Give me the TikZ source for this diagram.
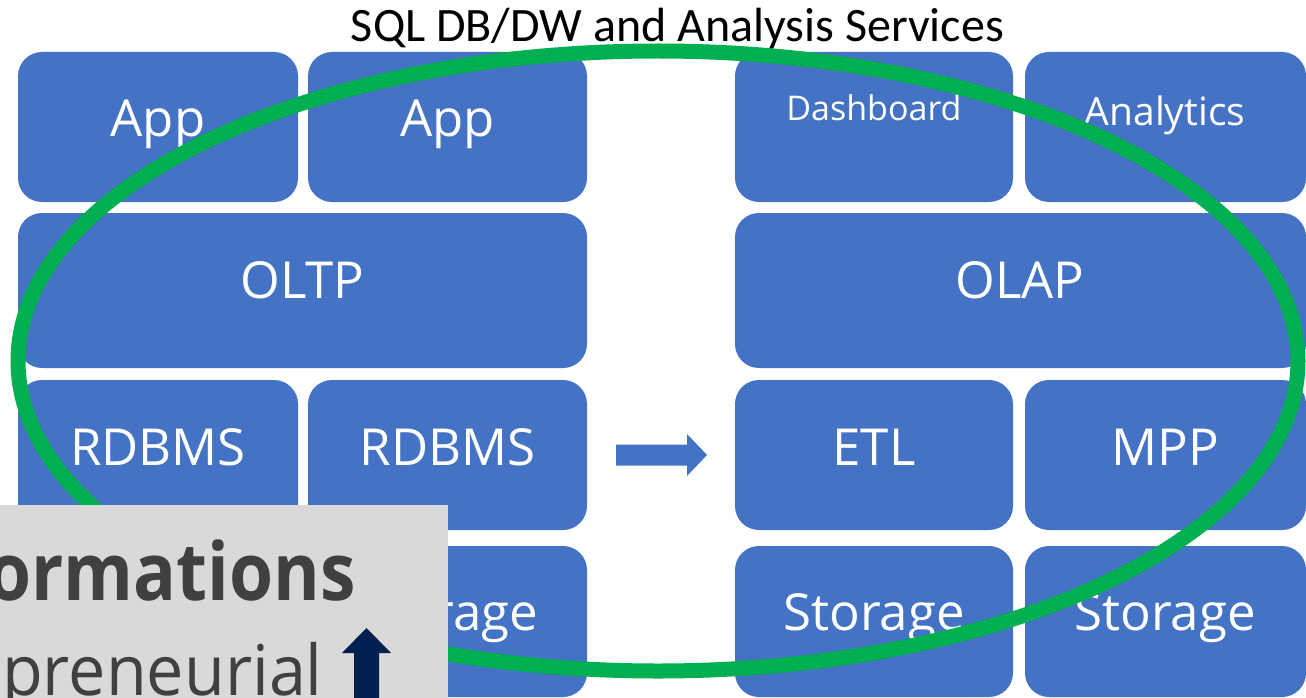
\documentclass[tikz,border=0pt]{standalone}
\usepackage{fontspec}
\setmainfont{Open Sans}
\newfontfamily\titlefont{Carlito}
\definecolor{tileblue}{HTML}{4472C4}
\definecolor{ringgreen}{HTML}{00B050}
\definecolor{panelgray}{HTML}{D9D9D9}
\definecolor{paneltext}{HTML}{404040}
\definecolor{navy}{HTML}{002050}

% \tile{name}{x1}{y1}{x2}{y2}
\newcommand{\tile}[5]{%
  \node[tile, anchor=north west, minimum width=#4pt-#2pt, minimum height=#5pt-#3pt] (#1) at (#2,#3) {};}

\begin{document}
\begin{tikzpicture}[x=1pt, y=-1pt,
  tile/.style={fill=tileblue, draw=none, rounded corners=24pt, inner sep=0pt, outer sep=0pt},
  lbl/.style={text=white, anchor=base, inner sep=0pt, font=\fontsize{51}{60}\selectfont},
  smalllbl/.style={lbl, font=\fontsize{34}{40}\selectfont},
  ring/.style={draw=ringgreen, line width=15pt},
  panel/.style={fill=panelgray, draw=none, anchor=north west, inner sep=0pt, outer sep=0pt}]
\useasboundingbox (0,0) rectangle (1306,698);
\clip (0,0) rectangle (1306,698);

% title
\node[anchor=base, inner sep=0pt, font=\titlefont\fontsize{48}{54}\selectfont] (title) at (677.5,42) {SQL DB/DW and Analysis Services};

% left stack: transactional side
\tile{app1}{18}{52}{298}{202}
\tile{app2}{308}{52}{587}{202}
\tile{oltp}{18}{213}{587}{368}
\tile{rdb1}{18}{380}{298}{530}
\tile{rdb2}{308}{380}{587}{530}
\tile{sto1}{18}{546}{298}{697}
\tile{sto2}{308}{546}{587}{697}

% right stack: analytical side
\tile{dash}{735}{52}{1013}{202}
\tile{anal}{1025}{52}{1306}{202}
\tile{olap}{735}{213}{1306}{368}
\tile{etl}{735}{380}{1013}{530}
\tile{mpp}{1025}{380}{1306}{530}
\tile{sto3}{735}{546}{1013}{697}
\tile{sto4}{1025}{546}{1306}{697}

% labels
\node[lbl] (app1t) at (158,136) {App};
\node[lbl] (app2t) at (447.5,136) {App};
\node[lbl] (oltpt) at (302.5,298) {OLTP};
\node[lbl] (rdb1t) at (158,465) {RDBMS};
\node[lbl] (rdb2t) at (447.5,465) {RDBMS};
\node[lbl] (sto1t) at (158,630) {Storage};
\node[lbl] (sto2t) at (447.5,630) {Storage};
\node[smalllbl] (dasht) at (874,121) {Dashboard};
\node[lbl, font=\fontsize{39}{46}\selectfont] (analt) at (1165,126) {Analytics};
\node[lbl] (olapt) at (1020,298) {OLAP};
\node[lbl] (etlt) at (874,465) {ETL};
\node[lbl] (mppt) at (1165,465) {MPP};
\node[lbl] (sto3t) at (874,630) {Storage};
\node[lbl] (sto4t) at (1165,630) {Storage};

% block arrow between the stacks
\fill[tileblue] (616,444.5) -- (687,444.5) -- (687,434) -- (707,455) -- (687,476)
  -- (687,465.5) -- (616,465.5) -- cycle;

% green ring
\draw[ring] (658,361) ellipse [x radius=640, y radius=310];

% grey panel in the lower left corner
\node[panel, minimum width=448pt, minimum height=193pt] (panel) at (0,505) {};
\node[anchor=base east, inner sep=0pt, text=paneltext,
  font=\bfseries\fontsize{80}{90}\selectfont] (formt) at (356,600) {\scalebox{0.89}[1]{formations}};
\node[anchor=base east, inner sep=0pt, text=paneltext,
  font=\fontsize{70}{80}\selectfont] (prent) at (323,695) {\scalebox{0.95}[1]{preneurial}};
\fill[navy] (354,698) -- (354,653) -- (342,653) -- (366.5,628) -- (391,653)
  -- (379,653) -- (379,698) -- cycle;
\end{tikzpicture}
\end{document}
